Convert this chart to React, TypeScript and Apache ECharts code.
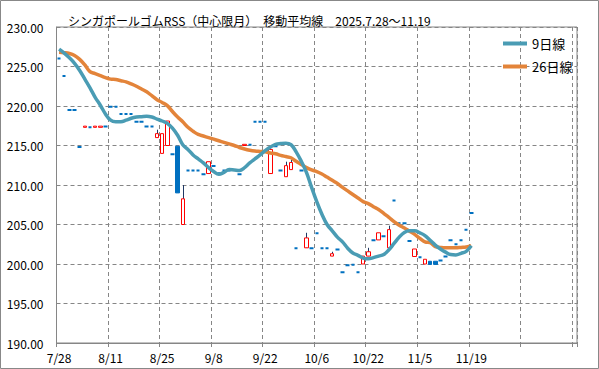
import React, { useEffect, useRef } from 'react';
import * as echarts from 'echarts';

const TITLE = 'シンガポールゴムRSS（中心限月）　移動平均線　2025.7.28～11.19';
const SERIES_NAMES = ['9日線', '26日線'];

const dates: string[] = [
  '7/28', '7/29', '7/30', '7/31', '8/1', '8/4', '8/5', '8/6', '8/7', '8/8',
  '8/11', '8/12', '8/13', '8/14', '8/15', '8/18', '8/19', '8/20', '8/21', '8/22',
  '8/25', '8/26', '8/27', '8/28', '8/29', '9/1', '9/2', '9/3', '9/4', '9/5',
  '9/8', '9/9', '9/10', '9/11', '9/12', '9/15', '9/16', '9/17', '9/18', '9/19',
  '9/22', '9/23', '9/24', '9/25', '9/26', '9/29', '9/30', '10/1', '10/2', '10/3',
  '10/6', '10/7', '10/8', '10/9', '10/10', '10/14', '10/15', '10/16', '10/17', '10/21',
  '10/22', '10/23', '10/24', '10/27', '10/28', '10/29', '10/30', '10/31', '11/3', '11/4',
  '11/5', '11/6', '11/7', '11/10', '11/11', '11/12', '11/13', '11/14', '11/17', '11/18',
  '11/19',
];
const EMPTY_SLOTS = 20;

const opens: number[] = [
  226.0, 223.8, 219.5, 219.5, 214.8, 217.3, 217.3, 217.3, 217.3, 217.4,
  219.9, 219.9, 219.0, 219.0, 219.0, 218.0, 218.0, 217.4, 217.4, 216.0,
  214.0, 215.0, 213.9, 214.9, 205.0, 211.85, 211.85, 211.85, 211.35, 211.45,
  212.4, 211.5, 211.85, 211.85, 211.9, 211.35, 215.0, 215.1, 218.0, 218.0,
  218.0, 211.45, 214.9, 211.85, 211.05, 211.95, 202.0, 211.85, 202.05, 202.0,
  203.9, 202.0, 202.0, 201.0, 201.85, 198.95, 199.85, 199.9, 198.95, 200.0,
  201.0, 203.0, 203.05, 203.5, 202.05, 208.05, 205.15, 205.15, 202.9, 200.95,
  200.85, 200.0, 200.35, 200.35, 200.45, 200.95, 203.0, 202.5, 203.0, 204.35,
  206.45,
];
const closes: number[] = [
  226.0, 223.8, 219.5, 219.5, 214.8, 217.45, 217.3, 217.45, 217.45, 217.4,
  219.9, 219.9, 219.0, 219.0, 219.0, 218.0, 218.0, 217.4, 217.4, 216.5,
  216.5, 218.1, 213.9, 209.0, 208.25, 211.85, 211.85, 211.85, 211.35, 212.95,
  212.4, 211.5, 211.85, 211.85, 211.9, 211.35, 215.15, 215.1, 218.0, 218.0,
  218.0, 214.5, 214.9, 211.85, 212.45, 212.85, 202.0, 211.85, 203.3, 202.0,
  203.9, 202.0, 202.0, 201.3, 201.85, 198.95, 199.85, 199.9, 198.95, 201.0,
  201.55, 203.0, 203.95, 203.5, 204.35, 208.05, 205.15, 205.15, 202.9, 201.9,
  200.85, 200.6, 199.95, 199.95, 200.45, 200.95, 203.0, 202.5, 203.0, 204.35,
  206.45,
];
const lows: number[] = [
  226.0, 223.8, 219.5, 219.5, 214.8, 217.3, 217.3, 217.3, 217.3, 217.4,
  219.9, 219.9, 219.0, 219.0, 219.0, 218.0, 218.0, 217.4, 217.4, 216.0,
  214.0, 215.0, 213.9, 209.0, 205.0, 211.85, 211.85, 211.85, 211.35, 211.45,
  212.4, 211.5, 211.85, 211.85, 211.9, 211.35, 215.0, 215.1, 218.0, 218.0,
  218.0, 211.45, 214.9, 211.85, 211.05, 211.95, 202.0, 211.85, 202.05, 202.0,
  203.9, 202.0, 202.0, 201.0, 201.85, 198.95, 199.85, 199.9, 198.95, 200.0,
  201.0, 203.0, 203.05, 203.5, 202.05, 208.05, 205.15, 205.15, 202.9, 200.95,
  200.85, 200.0, 199.95, 199.95, 200.45, 200.95, 203.0, 202.5, 203.0, 204.35,
  206.45,
];
const highs: number[] = [
  226.0, 223.8, 219.5, 219.5, 214.8, 217.45, 217.3, 217.45, 217.45, 217.4,
  219.9, 219.9, 219.0, 219.0, 219.0, 218.0, 218.0, 217.4, 217.4, 217.0,
  216.5, 218.1, 213.9, 214.9, 210.0, 211.85, 211.85, 211.85, 211.35, 212.95,
  212.4, 211.5, 211.85, 211.85, 211.9, 211.35, 215.15, 215.1, 218.0, 218.0,
  218.0, 214.7, 214.9, 211.85, 212.95, 213.2, 202.0, 211.85, 203.95, 202.0,
  203.9, 202.0, 202.0, 201.55, 201.85, 198.95, 199.85, 199.9, 198.95, 201.0,
  202.05, 203.0, 203.95, 203.5, 204.85, 208.05, 205.15, 205.15, 202.9, 201.9,
  200.85, 200.6, 200.35, 200.35, 200.45, 200.95, 203.0, 202.5, 203.0, 204.35,
  206.45,
];

const ma9: number[] = [
  227.2, 226.7, 226.1, 225.4, 224.5, 223.4, 222.3, 221.1, 220.1, 219.0,
  218.2, 218.0, 218.0, 218.2, 218.45, 218.6, 218.65, 218.7, 218.6, 218.35,
  218.1, 217.8, 217.2, 216.3, 215.1, 214.5, 213.8, 213.3, 212.8, 212.2,
  211.7, 211.35, 211.6, 211.95, 211.9, 211.85, 212.2, 212.8, 213.3, 213.8,
  214.35, 214.8, 215.15, 215.25, 215.3, 215.1, 214.2, 213.0, 211.6, 209.7,
  207.9, 206.3, 205.0, 204.2, 203.4, 202.8, 202.0, 201.4, 201.1, 200.75,
  200.65, 200.8, 201.0, 201.2, 201.8, 202.6, 203.4, 204.0, 204.2, 204.2,
  203.95, 203.6, 203.0, 202.4, 201.9, 201.5, 201.2, 201.15, 201.35, 201.6,
  202.3,
];
const ma26: number[] = [
  226.8, 226.75, 226.65, 226.4, 225.9, 225.2, 224.35, 224.1, 223.85, 223.6,
  223.4, 223.35, 223.2, 223.05, 222.8, 222.5, 222.15, 221.8, 221.3, 220.8,
  220.45, 220.05, 219.3, 218.6, 218.0, 217.3, 216.8, 216.4, 216.2, 216.0,
  215.8, 215.6, 215.4, 215.2, 215.0, 214.75, 214.55, 214.4, 214.3, 214.25,
  214.2, 214.05, 213.95, 213.75, 213.6, 213.45, 213.0, 212.6, 212.2, 211.9,
  211.7, 211.4, 211.0, 210.6, 210.2, 209.7, 209.25, 208.8, 208.35, 207.9,
  207.65, 207.25, 206.9, 206.4, 205.9, 205.35, 204.9, 204.55, 204.15, 203.75,
  203.25, 202.8, 202.7, 202.2, 202.1, 202.05, 202.05, 202.05, 202.1, 202.15,
  202.3,
];

const Y_MIN = 190;
const Y_MAX = 230;
const Y_STEP = 5;

const FONT = '"Noto Sans CJK JP", "Noto Sans", sans-serif';
const RED = '#FF0000';
const BLUE = '#0070C0';
const WICK = '#1F3864';
const TEAL = '#4A9CB4';
const ORANGE = '#E3843A';
const GRID_GRAY = '#868686';

export default function App() {
  const ref = useRef<HTMLDivElement>(null);

  useEffect(() => {
    document.body.style.margin = '0';
    if (!ref.current) return;
    const chart = echarts.init(ref.current, undefined, { renderer: 'svg' });

    const categories = dates.concat(new Array(EMPTY_SLOTS).fill(''));

    const candleData = opens.map((o, i) => {
      const c = closes[i];
      const up = c > o;
      const flat = c === o;
      const fill = up ? '#FFFFFF' : BLUE;
      const stroke = up ? RED : BLUE;
      return {
        value: [o, c, Math.min(o, c), Math.max(o, c)],
        itemStyle: {
          color: fill,
          color0: fill,
          borderColor: stroke,
          borderColor0: stroke,
          borderColorDoji: stroke,
          borderWidth: flat ? 2 : 1,
        },
      };
    });

    const wickData: number[][] = [];
    opens.forEach((o, i) => {
      const c = closes[i];
      if (highs[i] > Math.max(o, c) || lows[i] < Math.min(o, c)) {
        wickData.push([i, lows[i], highs[i]]);
      }
    });

    const option: any = {
      animation: false,
      backgroundColor: '#FFFFFF',
      textStyle: { fontFamily: FONT },
      title: {
        text: TITLE,
        left: 63,
        top: 9,
        textStyle: { fontSize: 12, fontWeight: 'normal', color: '#000', fontFamily: FONT },
      },
      legend: {
        data: SERIES_NAMES,
        orient: 'vertical',
        left: 498,
        top: 32,
        itemWidth: 24,
        itemHeight: 4,
        itemGap: 10,
        icon: 'rect',
        textStyle: { fontSize: 13, color: '#000', fontFamily: FONT },
      },
      graphic: [
        {
          type: 'rect',
          shape: { x: 0.5, y: 0.5, width: 598, height: 368 },
          style: { fill: 'none', stroke: '#888888', lineWidth: 1 },
          silent: true,
        },
      ],
      grid: {
        left: 56.5,
        right: 22,
        top: 27,
        bottom: 26,
        show: true,
        borderColor: GRID_GRAY,
        borderWidth: 1,
        backgroundColor: 'transparent',
      },
      xAxis: {
        type: 'category',
        data: categories,
        boundaryGap: true,
        axisLine: { show: true, lineStyle: { color: GRID_GRAY } },
        axisTick: { show: true, interval: 9, length: 4, lineStyle: { color: GRID_GRAY } },
        axisLabel: { interval: 9, margin: 8, fontSize: 12, color: '#000', fontFamily: FONT },
        splitLine: { show: true, interval: 9, lineStyle: { color: GRID_GRAY, type: [4, 3], width: 1 } },
      },
      yAxis: {
        type: 'value',
        min: Y_MIN,
        max: Y_MAX,
        interval: Y_STEP,
        axisLine: { show: true, lineStyle: { color: GRID_GRAY } },
        axisTick: { show: false },
        axisLabel: {
          margin: 13,
          fontSize: 12,
          color: '#000',
          fontFamily: FONT,
          formatter: (v: number) => v.toFixed(2),
        },
        splitLine: { show: true, lineStyle: { color: GRID_GRAY, type: [4, 3], width: 1 } },
      },
      series: [
        {
          type: 'custom',
          name: 'wick',
          z: 1,
          silent: true,
          data: wickData,
          encode: { x: 0, y: [1, 2] },
          renderItem: (params: any, api: any) => {
            const i = api.value(0);
            const p1 = api.coord([i, api.value(1)]);
            const p2 = api.coord([i, api.value(2)]);
            const x = Math.round(p1[0]) + 0.5;
            return {
              type: 'line',
              shape: { x1: x, y1: p1[1], x2: x, y2: p2[1] },
              style: { stroke: WICK, lineWidth: 1 },
            };
          },
        },
        {
          type: 'candlestick',
          name: 'RSS',
          z: 2,
          barWidth: 4,
          data: candleData,
        },
        {
          type: 'line',
          name: SERIES_NAMES[0],
          data: ma9,
          z: 4,
          smooth: 0.4,
          showSymbol: false,
          symbol: 'none',
          lineStyle: { color: TEAL, width: 3.5 },
          itemStyle: { color: TEAL },
        },
        {
          type: 'line',
          name: SERIES_NAMES[1],
          data: ma26,
          z: 3,
          smooth: 0.4,
          showSymbol: false,
          symbol: 'none',
          lineStyle: { color: ORANGE, width: 3.5 },
          itemStyle: { color: ORANGE },
        },
      ],
    };

    chart.setOption(option);
    return () => chart.dispose();
  }, []);

  return <div ref={ref} style={{ width: 599, height: 369 }} />;
}
